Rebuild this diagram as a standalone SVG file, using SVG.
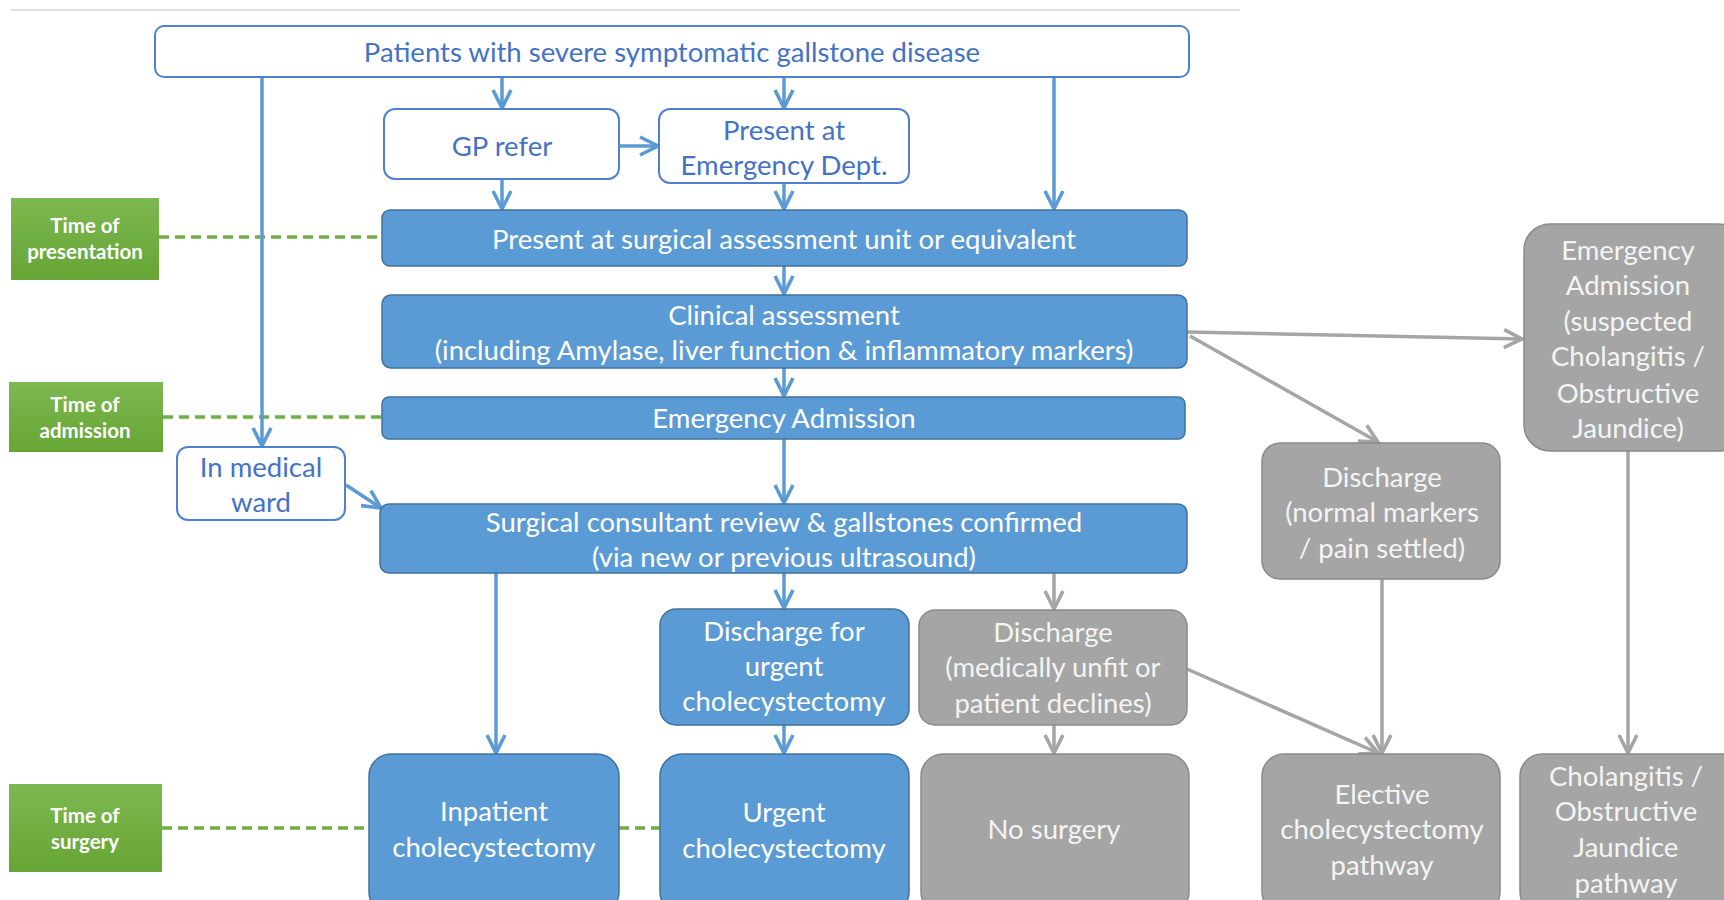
<svg xmlns="http://www.w3.org/2000/svg" width="1724" height="900" viewBox="0 0 1724 900">
  <style>
    .outline { fill: #ffffff; stroke: #4f81d0; stroke-width: 2; }
    .blue { fill: #5b9bd5; stroke: #41719c; stroke-width: 1.5; }
    .grey { fill: #a5a5a5; stroke: #8a8a8a; stroke-width: 1.5; }
    .tag { fill: url(#greenFill); }
    text { font-family: Lato, "Open Sans", "Liberation Sans", sans-serif; text-anchor: middle; }
    .t-out { fill: #4472c4; font-size: 27.5px; }
    .t-in { fill: #ffffff; font-size: 27.5px; }
    .t-grey { fill: #f4f4f4; font-size: 27.5px; }
    .t-tag { fill: #ffffff; font-size: 20.5px; font-weight: bold; }
    .c-blue { stroke: #5b9bd5; stroke-width: 3.5; fill: none; }
    .c-grey { stroke: #a5a5a5; stroke-width: 3.5; fill: none; }
    .dash { stroke: #70ad47; stroke-width: 3.5; stroke-dasharray: 10 6; fill: none; }
  </style>
  <defs>
    <linearGradient id="greenFill" x1="0" y1="0" x2="0" y2="1">
      <stop offset="0" stop-color="#7db850"/>
      <stop offset="1" stop-color="#66a535"/>
    </linearGradient>
    <marker id="arrowBlue" viewBox="0 0 20 20" refX="18" refY="10" markerWidth="24" markerHeight="24" markerUnits="userSpaceOnUse" orient="auto">
      <path d="M3,2.5 L18,10 L3,17.5" fill="none" stroke="#5b9bd5" stroke-width="3"/>
    </marker>
    <marker id="arrowGrey" viewBox="0 0 20 20" refX="18" refY="10" markerWidth="24" markerHeight="24" markerUnits="userSpaceOnUse" orient="auto">
      <path d="M3,2.5 L18,10 L3,17.5" fill="none" stroke="#a5a5a5" stroke-width="3"/>
    </marker>
  </defs>

  <rect width="1724" height="900" fill="#ffffff"/>
  <line x1="11" y1="10" x2="1240" y2="10" stroke="#d4d4d4" stroke-width="1.5"/>

  <!-- connectors -->
  <g id="connectors">
    <path class="dash" d="M159,237 H382"/>
    <path class="dash" d="M163,417 H382"/>
    <path class="dash" d="M162,828 H369"/>
    <path class="dash" d="M619,828 H660"/>

    <path class="c-blue" marker-end="url(#arrowBlue)" d="M502,77 V108"/>
    <path class="c-blue" marker-end="url(#arrowBlue)" d="M784,77 V108"/>
    <path class="c-blue" marker-end="url(#arrowBlue)" d="M1054,77 V209"/>
    <path class="c-blue" marker-end="url(#arrowBlue)" d="M262,77 V446"/>
    <path class="c-blue" marker-end="url(#arrowBlue)" d="M619,146 H658"/>
    <path class="c-blue" marker-end="url(#arrowBlue)" d="M502,179 V209"/>
    <path class="c-blue" marker-end="url(#arrowBlue)" d="M784,183 V209"/>
    <path class="c-blue" marker-end="url(#arrowBlue)" d="M784,266 V294"/>
    <path class="c-blue" marker-end="url(#arrowBlue)" d="M784,368 V396"/>
    <path class="c-blue" marker-end="url(#arrowBlue)" d="M784,439 V503"/>
    <path class="c-blue" marker-end="url(#arrowBlue)" d="M346,485 L381,508"/>
    <path class="c-blue" marker-end="url(#arrowBlue)" d="M496,573 V753"/>
    <path class="c-blue" marker-end="url(#arrowBlue)" d="M784,573 V608"/>
    <path class="c-blue" marker-end="url(#arrowBlue)" d="M784,725 V753"/>

    <path class="c-grey" marker-end="url(#arrowGrey)" d="M1054,573 V609"/>
    <path class="c-grey" marker-end="url(#arrowGrey)" d="M1054,725 V753"/>
    <path class="c-grey" marker-end="url(#arrowGrey)" d="M1187,332 L1522,339"/>
    <path class="c-grey" marker-end="url(#arrowGrey)" d="M1190,336 L1378,442"/>
    <path class="c-grey" marker-end="url(#arrowGrey)" d="M1382,579 V753"/>
    <path class="c-grey" marker-end="url(#arrowGrey)" d="M1187,669 L1378,753"/>
    <path class="c-grey" marker-end="url(#arrowGrey)" d="M1628,451 V753"/>
  </g>

  <!-- timing tags -->
  <g id="tag-presentation">
    <rect class="tag" x="11" y="198" width="148" height="82"/>
    <text class="t-tag" x="85" y="233">Time of</text>
    <text class="t-tag" x="85" y="259">presentation</text>
  </g>
  <g id="tag-admission">
    <rect class="tag" x="9" y="382" width="154" height="70"/>
    <text class="t-tag" x="85" y="412">Time of</text>
    <text class="t-tag" x="85" y="438">admission</text>
  </g>
  <g id="tag-surgery">
    <rect class="tag" x="9" y="784" width="153" height="88"/>
    <text class="t-tag" x="85" y="823">Time of</text>
    <text class="t-tag" x="85" y="849">surgery</text>
  </g>

  <!-- pathway nodes -->
  <g id="patients">
    <rect class="outline" x="155" y="26" width="1034" height="51" rx="9"/>
    <text class="t-out" x="672" y="62">Patients with severe symptomatic gallstone disease</text>
  </g>
  <g id="gp-refer">
    <rect class="outline" x="384" y="109" width="235" height="70" rx="11"/>
    <text class="t-out" x="502" y="156">GP refer</text>
  </g>
  <g id="emergency-dept">
    <rect class="outline" x="659" y="109" width="250" height="74" rx="11"/>
    <text class="t-out" x="784" y="140">Present at</text>
    <text class="t-out" x="784" y="175">Emergency Dept.</text>
  </g>
  <g id="assessment-unit">
    <rect class="blue" x="382" y="210" width="805" height="56" rx="8"/>
    <text class="t-in" x="784" y="249">Present at surgical assessment unit or equivalent</text>
  </g>
  <g id="clinical-assessment">
    <rect class="blue" x="382" y="295" width="805" height="73" rx="9"/>
    <text class="t-in" x="784" y="325">Clinical assessment</text>
    <text class="t-in" x="784" y="360">(including Amylase, liver function &amp; inflammatory markers)</text>
  </g>
  <g id="emergency-admission">
    <rect class="blue" x="382" y="397" width="803" height="42" rx="7"/>
    <text class="t-in" x="784" y="428">Emergency Admission</text>
  </g>
  <g id="medical-ward">
    <rect class="outline" x="177" y="447" width="168" height="73" rx="11"/>
    <text class="t-out" x="261" y="477">In medical</text>
    <text class="t-out" x="261" y="512">ward</text>
  </g>
  <g id="consultant-review">
    <rect class="blue" x="380" y="504" width="807" height="69" rx="9"/>
    <text class="t-in" x="784" y="532">Surgical consultant review &amp; gallstones confirmed</text>
    <text class="t-in" x="784" y="567">(via new or previous ultrasound)</text>
  </g>
  <g id="discharge-urgent">
    <rect class="blue" x="660" y="609" width="249" height="116" rx="16"/>
    <text class="t-in" x="784" y="641">Discharge for</text>
    <text class="t-in" x="784" y="676">urgent</text>
    <text class="t-in" x="784" y="711">cholecystectomy</text>
  </g>
  <g id="discharge-unfit">
    <rect class="grey" x="919" y="610" width="268" height="115" rx="16"/>
    <text class="t-grey" x="1053" y="642">Discharge</text>
    <text class="t-grey" x="1053" y="677">(medically unfit or</text>
    <text class="t-grey" x="1053" y="713">patient declines)</text>
  </g>
  <g id="inpatient">
    <rect class="blue" x="369" y="754" width="250" height="160" rx="22"/>
    <text class="t-in" x="494" y="821">Inpatient</text>
    <text class="t-in" x="494" y="857">cholecystectomy</text>
  </g>
  <g id="urgent">
    <rect class="blue" x="660" y="754" width="249" height="160" rx="22"/>
    <text class="t-in" x="784" y="822">Urgent</text>
    <text class="t-in" x="784" y="858">cholecystectomy</text>
  </g>
  <g id="no-surgery">
    <rect class="grey" x="921" y="754" width="268" height="160" rx="22"/>
    <text class="t-grey" x="1054" y="839">No surgery</text>
  </g>
  <g id="discharge-normal">
    <rect class="grey" x="1262" y="443" width="238" height="136" rx="18"/>
    <text class="t-grey" x="1382" y="487">Discharge</text>
    <text class="t-grey" x="1382" y="522">(normal markers</text>
    <text class="t-grey" x="1382" y="558">/ pain settled)</text>
  </g>
  <g id="admission-cholangitis">
    <rect class="grey" x="1524" y="224" width="220" height="227" rx="26"/>
    <text class="t-grey" x="1628" y="260">Emergency</text>
    <text class="t-grey" x="1628" y="295">Admission</text>
    <text class="t-grey" x="1628" y="331">(suspected</text>
    <text class="t-grey" x="1628" y="366">Cholangitis /</text>
    <text class="t-grey" x="1628" y="403">Obstructive</text>
    <text class="t-grey" x="1628" y="438">Jaundice)</text>
  </g>
  <g id="elective">
    <rect class="grey" x="1262" y="754" width="238" height="160" rx="22"/>
    <text class="t-grey" x="1382" y="804">Elective</text>
    <text class="t-grey" x="1382" y="839">cholecystectomy</text>
    <text class="t-grey" x="1382" y="875">pathway</text>
  </g>
  <g id="cholangitis-pathway">
    <rect class="grey" x="1520" y="754" width="224" height="160" rx="22"/>
    <text class="t-grey" x="1626" y="786">Cholangitis /</text>
    <text class="t-grey" x="1626" y="821">Obstructive</text>
    <text class="t-grey" x="1626" y="857">Jaundice</text>
    <text class="t-grey" x="1626" y="893">pathway</text>
  </g>
</svg>
